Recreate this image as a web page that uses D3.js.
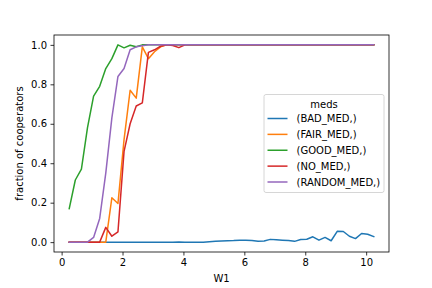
<!DOCTYPE html>
<html>
<head>
<meta charset="utf-8">
<script src="https://cdn.jsdelivr.net/npm/d3@7"></script>
<style>
  html, body { margin: 0; padding: 0; background: #fff; }
  svg { display: block; font-family: "DejaVu Sans", sans-serif; }
</style>
</head>
<body>
<svg id="chart" width="432" height="288"></svg>
<script>
// ---- data ----
const W1 = [0.25, 0.45, 0.65, 0.85, 1.05, 1.25, 1.45, 1.65, 1.85, 2.05,
            2.25, 2.45, 2.65, 2.85, 3.05, 3.25, 3.45, 3.65, 3.85, 4.05,
            4.25, 4.45, 4.65, 4.85, 5.05, 5.25, 5.45, 5.65, 5.85, 6.05,
            6.25, 6.45, 6.65, 6.85, 7.05, 7.25, 7.45, 7.65, 7.85, 8.05,
            8.25, 8.45, 8.65, 8.85, 9.05, 9.25, 9.45, 9.65, 9.85, 10.05, 10.25];

const seriesNames = ["(BAD_MED,)", "(FAIR_MED,)", "(GOOD_MED,)", "(NO_MED,)", "(RANDOM_MED,)"];
const seriesColors = ["#1f77b4", "#ff7f0e", "#2ca02c", "#d62728", "#9467bd"];

const badMed = [0, 0, 0, 0, 0, 0, 0, 0, 0, 0,
                0, 0, 0, 0, 0, 0, 0, 0, 0.001, 0,
                0, 0, 0, 0.002, 0.004, 0.006, 0.007, 0.008, 0.01, 0.01,
                0.008, 0.005, 0.006, 0.014, 0.012, 0.01, 0.008, 0.004, 0.013, 0.015,
                0.027, 0.01, 0.024, 0.007, 0.055, 0.054, 0.03, 0.018, 0.044, 0.04, 0.028];
const fairMed = [0, 0, 0, 0, 0, 0, 0, 0.225, 0.196, 0.52,
                 0.77, 0.73, 0.99, 0.93, 0.965, 0.99, 1, 1, 1, 1,
                 1, 1, 1, 1, 1, 1, 1, 1, 1, 1,
                 1, 1, 1, 1, 1, 1, 1, 1, 1, 1,
                 1, 1, 1, 1, 1, 1, 1, 1, 1, 1, 1];
const goodMed = [0.17, 0.315, 0.37, 0.58, 0.74, 0.79, 0.88, 0.93, 1, 0.985,
                 0.998, 0.99, 1, 1, 1, 1, 1, 1, 1, 1,
                 1, 1, 1, 1, 1, 1, 1, 1, 1, 1,
                 1, 1, 1, 1, 1, 1, 1, 1, 1, 1,
                 1, 1, 1, 1, 1, 1, 1, 1, 1, 1, 1];
const noMed = [0, 0, 0, 0, 0, 0, 0.075, 0.03, 0.052, 0.46,
               0.6, 0.69, 0.706, 0.962, 0.975, 0.993, 1, 0.997, 0.986, 1,
               1, 1, 1, 1, 1, 1, 1, 1, 1, 1,
               1, 1, 1, 1, 1, 1, 1, 1, 1, 1,
               1, 1, 1, 1, 1, 1, 1, 1, 1, 1, 1];
const randomMed = [0, 0, 0, 0, 0.024, 0.12, 0.35, 0.63, 0.84, 0.88,
                   0.975, 0.99, 0.995, 1, 1, 1, 1, 1, 1, 1,
                   1, 1, 1, 1, 1, 1, 1, 1, 1, 1,
                   1, 1, 1, 1, 1, 1, 1, 1, 1, 1,
                   1, 1, 1, 1, 1, 1, 1, 1, 1, 1, 1];

const seriesValues = [badMed, fairMed, goodMed, noMed, randomMed];
const xTicks = [0, 2, 4, 6, 8, 10];
const yTicks = [0.0, 0.2, 0.4, 0.6, 0.8, 1.0];
const legendTitle = "meds";
const xLabel = "W1";
const yLabel = "fraction of cooperators";

// ---- layout ----
const L = 54, R = 389, T = 35, B = 252;
const svg = d3.select("#chart");

const x = d3.scaleLinear().domain([-0.25, 10.75]).range([L, R]);
const y = d3.scaleLinear().domain([-0.05, 1.05]).range([B, T]);

// lines
const line = d3.line().x((d, i) => x(W1[i])).y(d => y(d));
const plot = svg.append("g");
seriesValues.forEach((vals, k) => {
  plot.append("path")
    .datum(vals)
    .attr("d", line)
    .attr("fill", "none")
    .attr("stroke", seriesColors[k])
    .attr("stroke-width", 1.5)
    .attr("stroke-linejoin", "round")
    .attr("stroke-linecap", "square");
});

// axes
const xAxis = d3.axisBottom(x).tickValues(xTicks).tickFormat(d3.format("d"))
  .tickSize(3.5).tickPadding(3.5);
const yAxis = d3.axisLeft(y).tickValues(yTicks).tickFormat(d3.format(".1f"))
  .tickSize(3.5).tickPadding(3.5);

const gx = svg.append("g").attr("transform", `translate(0,${B})`).call(xAxis);
const gy = svg.append("g").attr("transform", `translate(${L},0)`).call(yAxis);
[gx, gy].forEach(g => {
  g.select(".domain").remove();
  g.selectAll(".tick line").attr("stroke", "#000").attr("stroke-width", 0.8);
  g.selectAll(".tick text").attr("fill", "#000")
    .style("font-family", "DejaVu Sans").style("font-size", "10px");
});

// spines
svg.append("rect")
  .attr("x", L).attr("y", T).attr("width", R - L).attr("height", B - T)
  .attr("fill", "none").attr("stroke", "#000").attr("stroke-width", 0.8);

// axis labels
svg.append("text")
  .attr("x", (L + R) / 2).attr("y", 281.5)
  .attr("text-anchor", "middle")
  .style("font-size", "10px").attr("fill", "#000")
  .text(xLabel);
svg.append("text")
  .attr("transform", `translate(23,${(T + B) / 2}) rotate(-90)`)
  .attr("text-anchor", "middle")
  .style("font-size", "10px").attr("fill", "#000")
  .text(yLabel);

// legend
const lg = svg.append("g");
const lx0 = 264, lx1 = 384, ly0 = 94.5, ly1 = 192.5;
lg.append("rect")
  .attr("x", lx0).attr("y", ly0).attr("width", lx1 - lx0).attr("height", ly1 - ly0)
  .attr("rx", 2).attr("ry", 2)
  .attr("fill", "#fff").attr("fill-opacity", 0.8)
  .attr("stroke", "#cccccc").attr("stroke-width", 0.8);
lg.append("text")
  .attr("x", (lx0 + lx1) / 2).attr("y", 107.5)
  .attr("text-anchor", "middle")
  .style("font-size", "10px").attr("fill", "#000")
  .text(legendTitle);
const rowY = d3.scaleLinear().domain([0, seriesNames.length - 1]).range([118.5, 182]);
seriesNames.forEach((name, k) => {
  const cy = rowY(k);
  lg.append("line")
    .attr("x1", 267.5).attr("x2", 287.5).attr("y1", cy).attr("y2", cy)
    .attr("stroke", seriesColors[k]).attr("stroke-width", 1.5);
  lg.append("text")
    .attr("x", 296.5).attr("y", cy + 3.6)
    .style("font-size", "10px").attr("fill", "#000")
    .text(name);
});
</script>
</body>
</html>
